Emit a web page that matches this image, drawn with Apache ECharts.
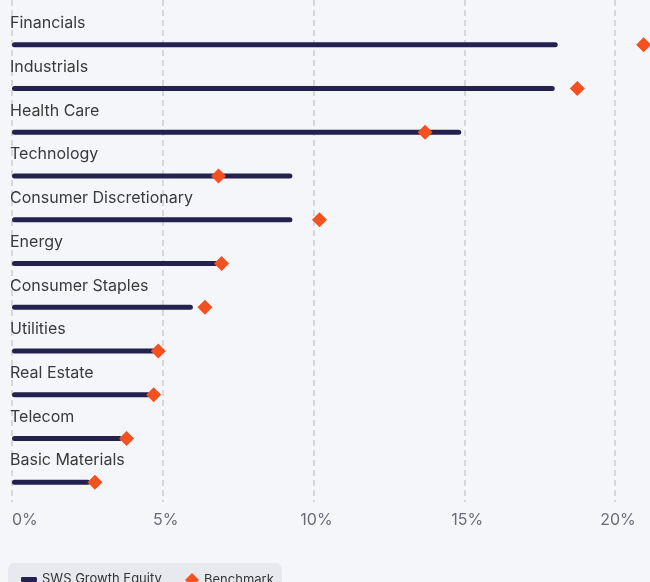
<!DOCTYPE html>
<html>
<head>
<meta charset="utf-8">
<script src="https://cdn.jsdelivr.net/npm/echarts@6/dist/echarts.min.js"></script>
<style>
  html, body { margin: 0; padding: 0; background: #f5f6fa; }
  #main { width: 650px; height: 582px; }
</style>
</head>
<body>
<div id="main"></div>
<script>
const sectors = ['Financials', 'Industrials', 'Health Care', 'Technology', 'Consumer Discretionary',
  'Energy', 'Consumer Staples', 'Utilities', 'Real Estate', 'Telecom', 'Basic Materials'];
const fundWeights = [18.1, 18.0, 14.9, 9.3, 9.3, 6.85, 6.0, 4.75, 4.6, 3.65, 2.6];
const benchmarkWeights = [20.95, 18.75, 13.7, 6.85, 10.2, 6.95, 6.4, 4.85, 4.7, 3.8, 2.75];
const xTicks = [0, 5, 10, 15, 20];

const navy = '#25214f';
const orange = '#f5501f';

let chartDom = document.getElementById('main');
let myChart = echarts.init(chartDom);

const option = {
  backgroundColor: '#f5f6fa',
  textStyle: { fontFamily: 'Inter' },
  graphic: [{
    type: 'rect',
    left: 8, top: 563,
    shape: { width: 274, height: 32, r: 6 },
    style: { fill: '#e8e9ee' },
    z: -1
  }],
  legend: [
    {
      data: ['SWS Growth Equity'],
      left: 16, top: 568,
      icon: 'roundRect',
      itemWidth: 16, itemHeight: 5,
      itemGap: 8,
      textStyle: { color: '#333', fontSize: 13 }
    },
    {
      data: ['Benchmark'],
      left: 180, top: 568,
      icon: 'diamond',
      itemWidth: 14, itemHeight: 14,
      textStyle: { color: '#333', fontSize: 13 }
    }
  ],
  grid: [
    { left: 12, right: 35, top: 23, height: 481 },
    { left: 12, right: 35, top: 0, bottom: 80 }
  ],
  xAxis: [
    {
      gridIndex: 0, type: 'value', min: 0, max: 20, interval: 5,
      show: false
    },
    {
      gridIndex: 1, type: 'value', min: xTicks[0], max: xTicks[xTicks.length - 1], interval: 5,
      axisLine: { show: false },
      axisTick: { show: false },
      axisLabel: {
        formatter: function (v) {
          return v === 0 ? v + '%' : '{s|' + v + '%}';
        },
        rich: { s: { padding: [0, 0, 0, 6], color: '#6b6b78', fontSize: 16 } },
        color: '#6b6b78',
        fontSize: 16,
        margin: 10,
        alignMinLabel: 'left'
      },
      splitLine: {
        show: true,
        lineStyle: { color: '#d6d7dd', width: 2, type: [6, 4] }
      }
    }
  ],
  yAxis: [
    {
      gridIndex: 0, type: 'category', data: sectors, inverse: true,
      show: false
    },
    {
      gridIndex: 1, type: 'category', data: [], show: false
    }
  ],
  series: [
    {
      name: 'SWS Growth Equity',
      type: 'bar',
      xAxisIndex: 0, yAxisIndex: 0,
      data: fundWeights,
      barWidth: 5,
      itemStyle: { color: navy, borderRadius: 3 },
      label: {
        show: true,
        formatter: '{b}',
        position: [-2, -19],
        verticalAlign: 'middle',
        align: 'left',
        color: '#3a3a3a',
        fontSize: 16
      },
      silent: true
    },
    {
      name: 'Benchmark',
      type: 'scatter',
      xAxisIndex: 0, yAxisIndex: 0,
      data: benchmarkWeights,
      symbol: 'diamond',
      symbolSize: 15,
      clip: false,
      itemStyle: { color: orange, opacity: 1 },
      z: 3
    }
  ]
};

myChart.setOption(option);
</script>
</body>
</html>
